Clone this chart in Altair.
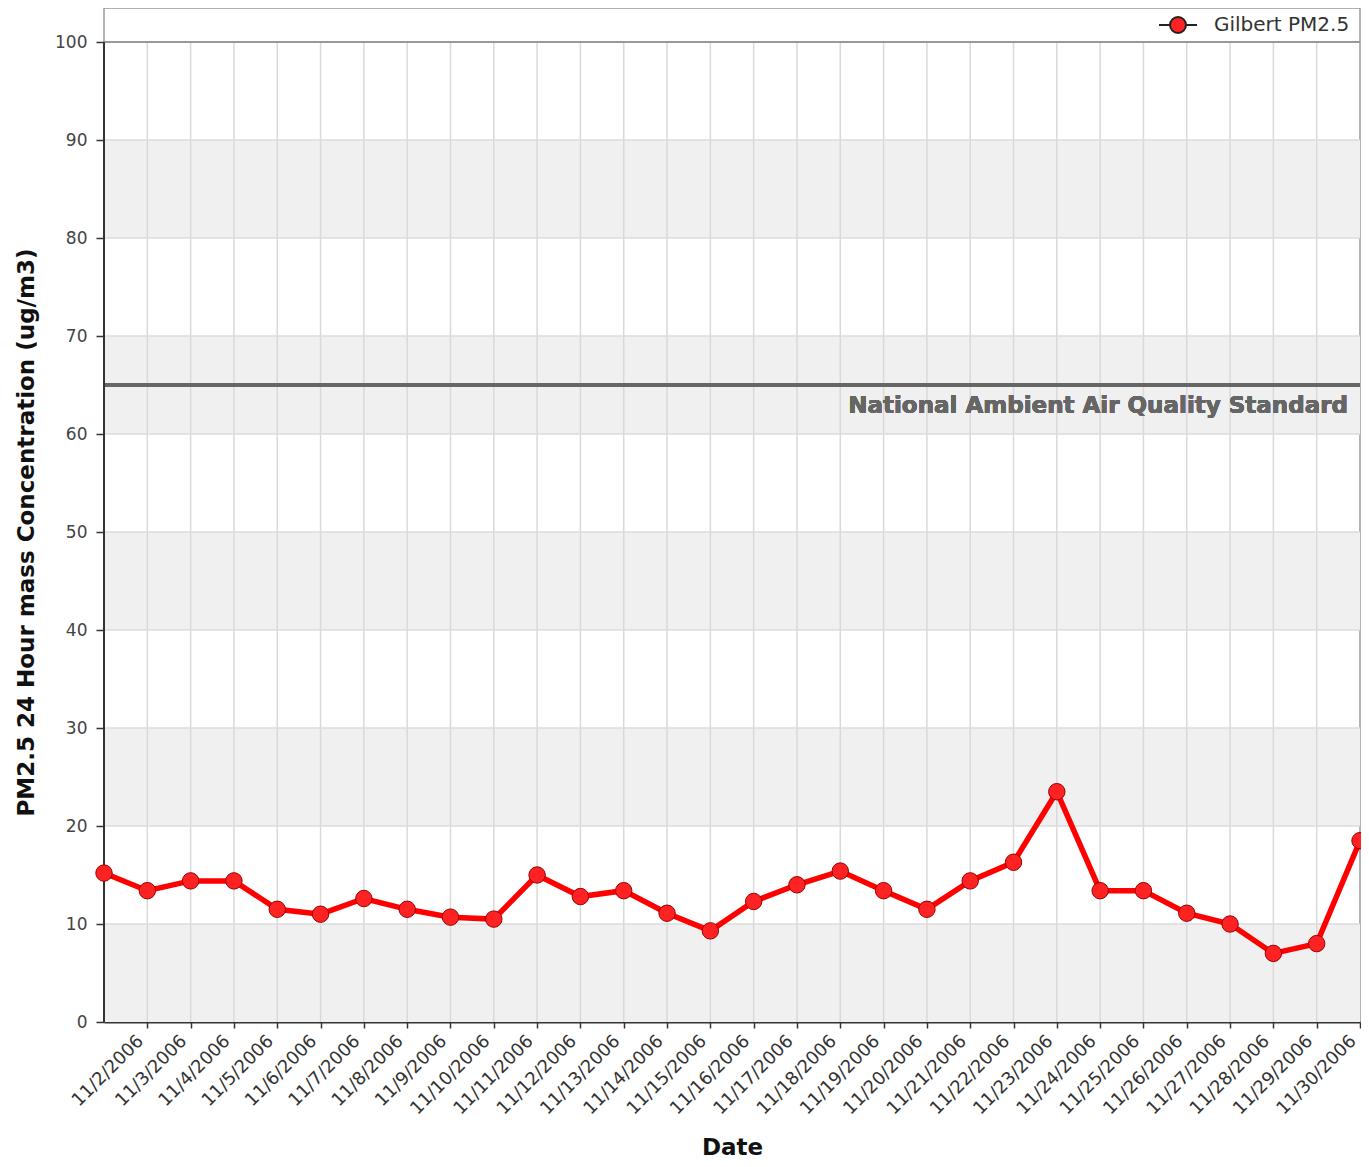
import altair as alt
import pandas as pd

# ---- data ----
days = list(range(1, 31))  # November 2006
pm25 = [15.2, 13.4, 14.4, 14.4, 11.5, 11.0, 12.6, 11.5, 10.7, 10.5,
        15.0, 12.8, 13.4, 11.1, 9.3, 12.3, 14.0, 15.4, 13.4, 11.5,
        14.4, 16.3, 23.5, 13.4, 13.4, 11.1, 10.0, 7.0, 8.0, 18.5]
series_name = "Gilbert PM2.5"
label_days = list(range(2, 31))
grid_days = list(range(2, 30))
y_ticks = [0, 10, 20, 30, 40, 50, 60, 70, 80, 90, 100]
grid_values = [10, 20, 30, 40, 50, 60, 70, 80, 90]
band_low = [0, 20, 40, 60, 80]
band_high = [10, 30, 50, 70, 90]
y_top = 100
standard_value = 65
standard_label = "National Ambient Air Quality Standard"

W, H = 1256, 1014
FONT = "DejaVu Sans"

df = pd.DataFrame({"day": days, "value": pm25, "series": series_name})
bands = pd.DataFrame({"lo": band_low, "hi": band_high})
vgrid = pd.DataFrame({"day": grid_days})
hgrid = pd.DataFrame({"v": grid_values})

xscale = alt.Scale(domain=[1, 30], nice=False, zero=False)
yscale = alt.Scale(domain=[0, 103.47], nice=False, zero=True)

x_axis = alt.Axis(values=label_days, labelExpr="'11/' + datum.value + '/2006'",
                  labelAngle=315, labelAlign="right", labelBaseline="middle",
                  labelOverlap=False, labelBound=False, labelFlush=False,
                  labelFont=FONT, labelFontSize=18, labelColor="#333",
                  labelPadding=10, labelOffset=-7, tickSize=6, tickColor="#333",
                  tickWidth=1.5, domainColor="#333", domainWidth=2, grid=False,
                  title="Date", titleFont=FONT, titleFontSize=23, titleFontWeight="bold",
                  titleColor="#111", titleY=125, titleBaseline="middle")
y_axis = alt.Axis(values=y_ticks, labelFont=FONT, labelFontSize=17, labelColor="#444",
                  labelPadding=9, tickSize=8, tickColor="#333", tickWidth=1.5,
                  domain=False, grid=False,
                  title="PM2.5 24 Hour mass Concentration (ug/m3)", titleFont=FONT,
                  titleFontSize=23, titleFontWeight="bold", titleColor="#111",
                  titleX=-78, titleY=524, titleAngle=270, titleBaseline="middle",
                  titleAlign="center")

band_layer = alt.Chart(bands).mark_rect(color="#f0f0f0").encode(
    x=alt.value(0), x2=alt.value(W),
    y=alt.Y("lo:Q", scale=yscale, axis=y_axis), y2="hi:Q")

vgrid_layer = alt.Chart(vgrid).mark_rule(color="#d9d9d9", strokeWidth=1.5).encode(
    x=alt.X("day:Q", scale=xscale, axis=x_axis),
    y=alt.datum(0), y2=alt.datum(y_top))

hgrid_layer = alt.Chart(hgrid).mark_rule(color="#dcdcdc", strokeWidth=1.5).encode(
    y=alt.Y("v:Q", scale=yscale), x=alt.value(0), x2=alt.value(W))

top_line = alt.Chart(hgrid).mark_rule(color="#999", strokeWidth=2).encode(
    y=alt.datum(y_top), x=alt.value(0), x2=alt.value(W))

left_axis_line = alt.Chart(hgrid).mark_rule(color="#333", strokeWidth=2).encode(
    x=alt.value(0), y=alt.datum(0), y2=alt.datum(y_top))

std_line = alt.Chart(hgrid).mark_rule(color="#666", strokeWidth=3).encode(
    y=alt.datum(standard_value), x=alt.value(0), x2=alt.value(W))

std_text = alt.Chart(hgrid).mark_text(
    align="right", baseline="middle", font=FONT, fontSize=23, fontWeight="bold",
    color="#666", dx=-12, dy=21).encode(
    x=alt.value(W), y=alt.datum(standard_value), text=alt.value(standard_label))

line_layer = alt.Chart(df).mark_line(color="#ff0000", strokeWidth=5.5).encode(
    x=alt.X("day:Q", scale=xscale), y=alt.Y("value:Q", scale=yscale))

legend = alt.Legend(title=None, orient="none", legendX=1054, legendY=-3, padding=0,
                    symbolType="M-1,0L-0.42,0M0.42,0L1,0M0.42,0A0.42,0.42,0,1,1,-0.42,0A0.42,0.42,0,1,1,0.42,0Z",
                    symbolSize=1444, symbolStrokeColor="#222", symbolStrokeWidth=2,
                    labelFont=FONT, labelFontSize=20, labelColor="#333", labelOffset=16)

point_layer = alt.Chart(df).mark_point(filled=True, size=270, stroke="#9a0000",
                                       strokeWidth=1, opacity=1).encode(
    x=alt.X("day:Q", scale=xscale), y=alt.Y("value:Q", scale=yscale),
    fill=alt.Fill("series:N", scale=alt.Scale(range=["#ff2222"]), legend=legend))

chart = alt.layer(band_layer, vgrid_layer, hgrid_layer, top_line, std_line, std_text,
                  left_axis_line, line_layer, point_layer).properties(
    width=W, height=H,
    autosize=alt.AutoSizeParams(type="none"),
    padding={"left": 96, "top": 0, "right": 1, "bottom": 137},
    background="white",
).configure_view(stroke="#999", strokeWidth=1.5)

chart.save("out.html", embed_options={"renderer": "svg", "actions": False})
